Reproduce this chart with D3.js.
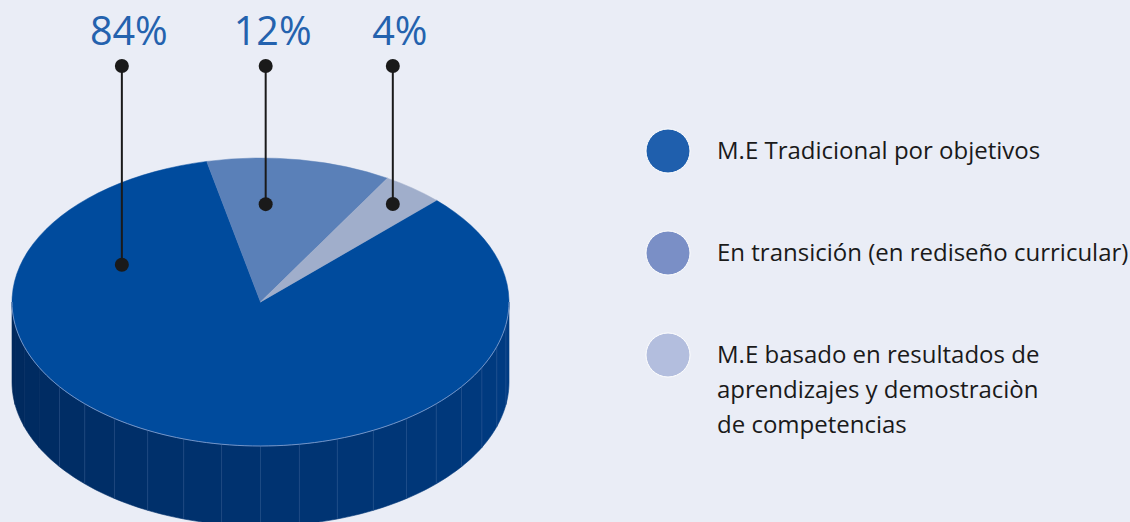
<!DOCTYPE html>
<html>
<head>
<meta charset="utf-8">
<script src="https://cdn.jsdelivr.net/npm/d3@7"></script>
<style>
  html, body { margin: 0; padding: 0; background: #eaedf6; }
  svg { display: block; font-family: "Open Sans", "Noto Sans", sans-serif; }
</style>
</head>
<body>
<svg id="chart" width="1130" height="522"></svg>
<script>
// data
var categories = [
  "M.E Tradicional por objetivos",
  "En transición (en rediseño curricular)",
  "M.E basado en resultados de|aprendizajes y demostraciòn|de competencias"
];
var values = [84, 12, 4];
var pctLabels = ["84%", "12%", "4%"];

// colours
var topColors = ["#004b9d", "#5a80b8", "#a0aecb"];
var legendColors = ["#1f5fad", "#7a8fc6", "#b3bede"];

// where the leader dots sit inside each slice (fraction along slice, fraction of radius)
var anchorT = [0.826, 0.33, 0.51];
var anchorR = [0.615, 0.68, 0.864];

var W = 1130, H = 522;
var cx = 260.5, cy = 302, rx = 248.5, ry = 144, depth = 80;

var svg = d3.select("#chart");
svg.append("rect").attr("width", W).attr("height", H).attr("fill", "#eaedf6");

var startA = 45.1 * Math.PI / 180;
var pie = d3.pie().sort(null).value(function (d) { return d; })
  .startAngle(startA).endAngle(startA + 2 * Math.PI);
var arcs = pie(values);

function ex(a, r) { return cx + rx * (r == null ? 1 : r) * Math.sin(a); }
function ey(a, r) { return cy - ry * (r == null ? 1 : r) * Math.cos(a); }

// side of the cylinder (front half only is visible)
var sideG = svg.append("g");
var nFacets = 20;
var a0 = Math.PI / 2, a1 = 3 * Math.PI / 2;
var sideColor = d3.scaleLinear().domain([a0, a1]).range(["#003c84", "#00295c"]);
var line = d3.line();
for (var i = 0; i < nFacets; i++) {
  var s = a0 + (a1 - a0) * i / nFacets;
  var e = a0 + (a1 - a0) * (i + 1) / nFacets;
  var pts = [];
  var steps = 8;
  for (var k = 0; k <= steps; k++) {
    var a = s + (e - s) * k / steps;
    pts.push([ex(a), ey(a)]);
  }
  for (var k = steps; k >= 0; k--) {
    var a = s + (e - s) * k / steps;
    pts.push([ex(a), ey(a) + depth]);
  }
  sideG.append("path")
    .attr("d", line(pts) + "Z")
    .attr("fill", sideColor((s + e) / 2))
    .attr("stroke", sideColor((s + e) / 2))
    .attr("stroke-width", 0.6);
}
// faint seams between facets
for (var i = 1; i < nFacets - 3; i++) {
  var s = a0 + (a1 - a0) * i / nFacets;
  sideG.append("line")
    .attr("x1", ex(s)).attr("y1", ey(s))
    .attr("x2", ex(s)).attr("y2", ey(s) + depth)
    .attr("stroke", "#5a7fb5").attr("stroke-opacity", 0.35)
    .attr("stroke-width", 0.7);
}

// top face
var arcGen = d3.arc().innerRadius(0).outerRadius(rx);
var topG = svg.append("g")
  .attr("transform", "translate(" + cx + "," + cy + ") scale(1," + (ry / rx) + ")");
topG.selectAll("path.slice")
  .data(arcs)
  .join("path")
  .attr("class", "slice")
  .attr("d", arcGen)
  .attr("fill", function (d, i) { return topColors[i]; })
  .attr("stroke", function (d, i) { return topColors[i]; })
  .attr("stroke-width", 0.5)
  .attr("vector-effect", "non-scaling-stroke");

// light rim along the front edge
var rimPts = d3.range(0, 101).map(function (j) {
  var a = a0 + (a1 - a0) * j / 100;
  return [ex(a), ey(a)];
});
svg.append("path").attr("d", line(rimPts)).attr("fill", "none")
  .attr("stroke", "#7d9bcc").attr("stroke-width", 0.9);

// leader lines and percentage labels
var topDotY = 66, labelY = 45;
arcs.forEach(function (d, i) {
  var a = d.startAngle + (d.endAngle - d.startAngle) * anchorT[i];
  var x = ex(a, anchorR[i]), y = ey(a, anchorR[i]);
  svg.append("line")
    .attr("x1", x).attr("y1", y).attr("x2", x).attr("y2", topDotY)
    .attr("stroke", "#1a1a1a").attr("stroke-width", 2);
  svg.append("circle").attr("cx", x).attr("cy", y).attr("r", 7).attr("fill", "#1a1a1a");
  svg.append("circle").attr("cx", x).attr("cy", topDotY).attr("r", 7).attr("fill", "#1a1a1a");
  svg.append("text")
    .attr("x", x + 7).attr("y", labelY)
    .attr("text-anchor", "middle")
    .attr("font-size", 39.5)
    .attr("fill", "#2462ae")
    .text(pctLabels[i]);
});

// legend
var legY = d3.scalePoint().domain(d3.range(categories.length)).range([151, 355]);
var leg = svg.append("g");
categories.forEach(function (c, i) {
  var y = legY(i);
  leg.append("circle").attr("cx", 668).attr("cy", y).attr("r", 22)
    .attr("fill", legendColors[i]).attr("stroke", "#ffffff").attr("stroke-width", 1);
  var t = leg.append("text").attr("x", 717).attr("y", y + 8)
    .attr("font-size", 24).attr("fill", "#1a1a1a");
  c.split("|").forEach(function (ln, j) {
    t.append("tspan").attr("x", 717).attr("dy", j === 0 ? 0 : 35).text(ln);
  });
});
</script>
</body>
</html>
